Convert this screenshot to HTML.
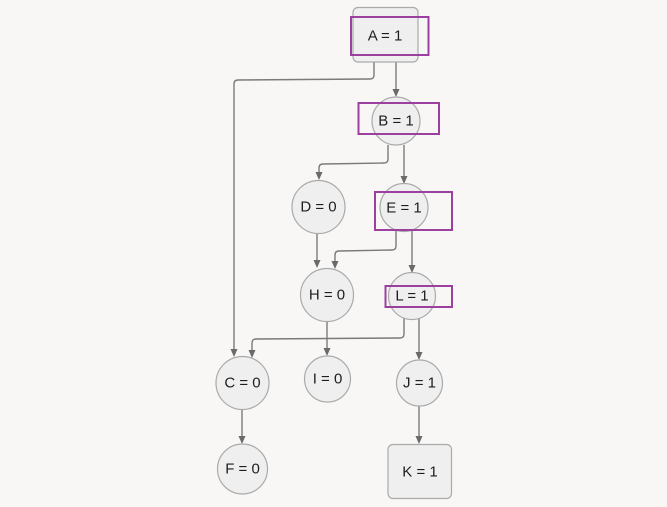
<!DOCTYPE html>
<html><head><meta charset="utf-8"><style>
html,body{margin:0;padding:0;background:#f8f7f6;}
svg{display:block;}
text{font-family:"Liberation Sans",sans-serif;font-size:15px;fill:#1e1e1e;text-anchor:middle;dominant-baseline:central;}
</style></head><body>
<svg width="667" height="507" viewBox="0 0 667 507" xmlns="http://www.w3.org/2000/svg">
<rect width="667" height="507" fill="#f8f7f6"/>
<g fill="none" stroke="#7a7a7a" stroke-width="1.4">
<path d="M374,62 L374,75 Q374,79 370,79 L238,80 Q234,80 234,84 L234,349"/>
<path d="M396,62 L396,90"/>
<path d="M388,145 L388,159 Q388,163 384,163 L323,164 Q319,164 319,168 L319,173"/>
<path d="M404,145 L404,177"/>
<path d="M317,233 L317,261"/>
<path d="M396,231 L396,246 Q396,250 392,250 L339,251 Q335,251 335,255 L335,262"/>
<path d="M412,231 L412,266"/>
<path d="M404,318 L404,334 Q404,338 400,338 L256,339 Q252,339 252,343 L252,351"/>
<path d="M419,318 L419,353"/>
<path d="M327,322 L327,349"/>
<path d="M242,410 L242,437"/>
<path d="M419,406 L419,437"/>
</g>
<g fill="#6a6a6a">
<polygon points="234,357 230.5,349 237.5,349"/>
<polygon points="396,97 392.5,89 399.5,89"/>
<polygon points="319,180 315.5,172 322.5,172"/>
<polygon points="404,184 400.5,176 407.5,176"/>
<polygon points="317,268 313.5,260 320.5,260"/>
<polygon points="335,269 331.5,261 338.5,261"/>
<polygon points="412,273 408.5,265 415.5,265"/>
<polygon points="252,358 248.5,350 255.5,350"/>
<polygon points="419,360 415.5,352 422.5,352"/>
<polygon points="327,356 323.5,348 330.5,348"/>
<polygon points="242,444 238.5,436 245.5,436"/>
<polygon points="419,444 415.5,436 422.5,436"/>
</g>
<g fill="#efefef" stroke="#aaaaaa" stroke-width="1.2">
<rect x="353" y="7.5" width="65" height="54.5" rx="5"/>
<circle cx="396" cy="121" r="24"/>
<circle cx="318.5" cy="207" r="26.5"/>
<circle cx="404" cy="207.5" r="24"/>
<circle cx="327" cy="295" r="26.5"/>
<circle cx="412" cy="296" r="23.5"/>
<circle cx="242.5" cy="383" r="26.5"/>
<circle cx="327.5" cy="379" r="23"/>
<circle cx="419.5" cy="383" r="23"/>
<circle cx="242.5" cy="469" r="25"/>
<rect x="388" y="444.5" width="63.5" height="54" rx="5"/>
</g>
<text x="385" y="36">A = 1</text>
<text x="396" y="121">B = 1</text>
<text x="318.5" y="207">D = 0</text>
<text x="404" y="208">E = 1</text>
<text x="327" y="295">H = 0</text>
<text x="412" y="296">L = 1</text>
<text x="242.5" y="383">C = 0</text>
<text x="327.5" y="379">I = 0</text>
<text x="419.5" y="383">J = 1</text>
<text x="242.5" y="469">F = 0</text>
<text x="420" y="472">K = 1</text>
<g fill="none" stroke="#9c40a0" stroke-width="2">
<rect x="351" y="17" width="77.5" height="38"/>
<rect x="358.5" y="103" width="80.5" height="31"/>
<rect x="375" y="192" width="77" height="38"/>
<rect x="385.5" y="286" width="66.5" height="21"/>
</g>
</svg>
</body></html>
